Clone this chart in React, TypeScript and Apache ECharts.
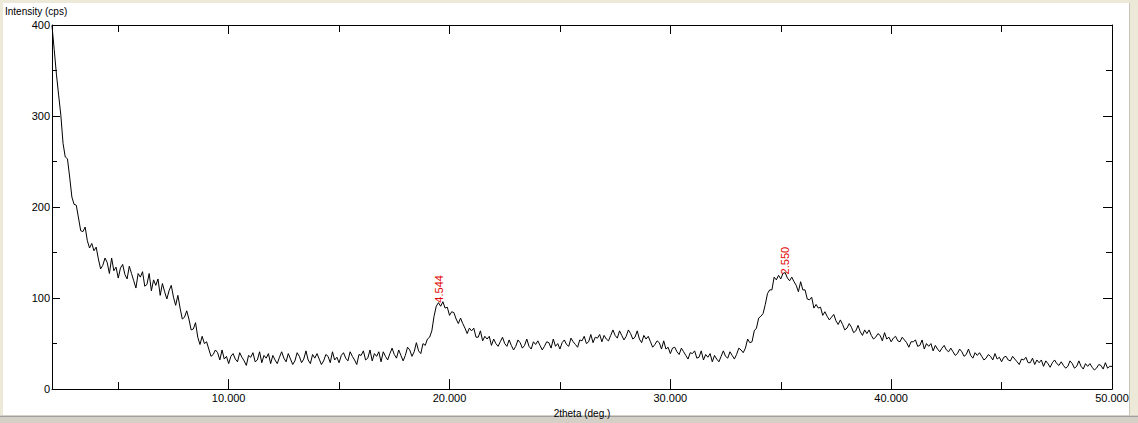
import React, { useEffect, useRef } from 'react';
import * as echarts from 'echarts';

// 2theta grid: 2.0° .. 50.0° in 0.1° steps
const ANGLE_START = 2.0;
const ANGLE_STEP = 0.1;

// Intensity (cps), one row per degree (2.x, 3.x, ... 49.x, 50.0)
const intensity: number[] = [
  399, 373, 346, 323, 301, 270, 255, 253, 233, 211,
  203, 202, 188, 174, 173, 178, 163, 155, 160, 152,
  156, 143, 132, 136, 144, 139, 127, 144, 130, 134,
  122, 133, 137, 126, 121, 135, 127, 119, 111, 127,
  123, 129, 113, 115, 127, 108, 120, 114, 121, 103,
  116, 107, 99, 108, 114, 101, 92, 103, 89, 77,
  79, 86, 77, 65, 66, 73, 57, 49, 58, 50,
  52, 44, 36, 38, 43, 40, 32, 43, 33, 36,
  28, 36, 39, 33, 30, 40, 35, 31, 26, 37,
  35, 40, 30, 32, 41, 29, 37, 34, 39, 28,
  37, 32, 28, 35, 41, 34, 30, 39, 33, 27,
  31, 40, 36, 29, 33, 42, 32, 28, 38, 34,
  39, 33, 27, 31, 38, 36, 29, 41, 32, 35,
  29, 37, 40, 34, 31, 41, 36, 32, 27, 38,
  37, 42, 32, 34, 43, 31, 39, 36, 41, 30,
  41, 36, 32, 39, 45, 38, 34, 43, 37, 31,
  37, 46, 43, 36, 41, 51, 42, 39, 50, 48,
  55, 57, 64, 80, 91, 95, 91, 96, 89, 90,
  81, 85, 84, 77, 72, 78, 72, 67, 61, 67,
  64, 67, 57, 57, 64, 53, 58, 55, 58, 48,
  55, 50, 47, 52, 57, 50, 47, 54, 48, 43,
  47, 54, 51, 45, 48, 55, 47, 44, 52, 49,
  53, 48, 43, 47, 52, 51, 45, 55, 47, 50,
  44, 51, 54, 49, 47, 56, 52, 49, 46, 54,
  53, 58, 50, 52, 60, 51, 57, 56, 60, 52,
  59, 55, 53, 59, 65, 59, 56, 64, 59, 54,
  58, 65, 61, 55, 57, 64, 55, 51, 59, 55,
  58, 52, 46, 49, 53, 51, 44, 53, 44, 46,
  39, 45, 46, 41, 38, 45, 41, 37, 33, 40,
  39, 42, 34, 35, 42, 32, 38, 35, 39, 30,
  37, 33, 30, 36, 42, 36, 34, 41, 37, 33,
  38, 45, 43, 40, 45, 55, 51, 52, 64, 67,
  78, 80, 83, 93, 105, 109, 109, 123, 120, 125,
  121, 127, 128, 122, 119, 123, 118, 114, 107, 118,
  109, 109, 99, 98, 101, 89, 93, 89, 90, 81,
  85, 80, 76, 79, 82, 75, 71, 76, 71, 65,
  67, 72, 68, 62, 64, 70, 63, 59, 65, 61,
  65, 59, 55, 57, 61, 59, 53, 62, 55, 57,
  52, 56, 58, 53, 52, 57, 54, 51, 46, 52,
  52, 54, 47, 48, 54, 44, 50, 47, 50, 42,
  48, 44, 41, 45, 48, 43, 41, 45, 41, 37,
  39, 44, 41, 36, 38, 44, 37, 34, 40, 37,
  40, 36, 32, 34, 38, 36, 32, 39, 33, 35,
  30, 35, 36, 32, 31, 36, 33, 30, 27, 33,
  32, 35, 29, 29, 34, 27, 32, 29, 32, 25,
  31, 28, 24, 29, 32, 28, 26, 30, 26, 23,
  25, 31, 28, 23, 25, 31, 25, 22, 28, 25,
  28, 24, 21, 23, 27, 26, 22, 29, 23, 25,
  25,
];

const xMajorTicks = [10, 20, 30, 40, 50];
const xMinorTicks = [5, 15, 25, 35, 45];
const X_MIN = 2;
const X_MAX = 50;
const Y_MIN = 0;
const Y_MAX = 400;
const Y_INTERVAL = 100;

// peak annotations (d-spacing, Å)
const peakAngles = [19.52, 35.17];
const peakIntensities = [95, 126];
const peakLabels = ['4.544', '2.550'];

const FONT = '"Liberation Sans", Arial, sans-serif';

export default function App() {
  const ref = useRef<HTMLDivElement>(null);

  useEffect(() => {
    document.body.style.margin = '0';
    const chart = echarts.init(ref.current!, null, { renderer: 'svg' });

    const seriesData = intensity.map((v, i) => [
      +(ANGLE_START + i * ANGLE_STEP).toFixed(2),
      v,
    ]);

    const black = '#000';
    const baseX = {
      type: 'value' as const,
      min: X_MIN,
      max: X_MAX,
      splitLine: { show: false },
      minorSplitLine: { show: false },
    };
    const baseY = {
      type: 'value' as const,
      min: Y_MIN,
      max: Y_MAX,
      interval: Y_INTERVAL,
      splitLine: { show: false },
      minorSplitLine: { show: false },
    };

    chart.setOption({
      animation: false,
      backgroundColor: 'transparent',
      textStyle: { fontFamily: FONT },
      grid: { left: 52, right: 26, top: 25, bottom: 33, containLabel: false },
      graphic: [
        {
          type: 'rect',
          silent: true,
          z: -20,
          shape: { x: 0, y: 0, width: 1138, height: 423 },
          style: { fill: '#d4d0c8' },
        },
        {
          type: 'rect',
          silent: true,
          z: -19,
          shape: { x: 0, y: 0, width: 1138, height: 415 },
          style: { fill: '#ece9d8' },
        },
        {
          type: 'rect',
          silent: true,
          z: -18,
          shape: { x: 3, y: 3, width: 1126, height: 412 },
          style: { fill: '#ffffff' },
        },
        {
          type: 'line',
          silent: true,
          z: -17,
          shape: { x1: 0, y1: 416.5, x2: 1138, y2: 416.5 },
          style: { stroke: '#a0a0a0', lineWidth: 1 },
        },
        {
          type: 'line',
          silent: true,
          z: -17,
          shape: { x1: 1129.5, y1: 3, x2: 1129.5, y2: 416 },
          style: { stroke: '#c8c4b8', lineWidth: 1 },
        },
        {
          type: 'text',
          silent: true,
          left: 5,
          top: 6,
          style: {
            text: 'Intensity (cps)',
            fill: black,
            font: `10px ${FONT}`,
          },
        },
      ],
      xAxis: [
        {
          ...baseX,
          position: 'bottom',
          axisLine: { show: true, onZero: false, lineStyle: { color: black, width: 1 } },
          axisTick: {
            show: true,
            inside: true,
            length: 10,
            customValues: xMajorTicks,
            lineStyle: { color: black, width: 1 },
          },
          axisLabel: {
            show: true,
            customValues: xMajorTicks,
            formatter: (v: number) => v.toFixed(3),
            color: black,
            fontSize: 11,
            fontFamily: FONT,
            margin: 3,
          },
          name: '2theta (deg.)',
          nameLocation: 'middle',
          nameGap: 18,
          nameTextStyle: { color: black, fontSize: 10, fontFamily: FONT },
        },
        {
          ...baseX,
          position: 'bottom',
          axisLine: { show: false, onZero: false },
          axisTick: {
            show: true,
            inside: true,
            length: 7,
            customValues: xMinorTicks,
            lineStyle: { color: black, width: 1 },
          },
          axisLabel: { show: false },
        },
        {
          ...baseX,
          position: 'top',
          axisLine: { show: true, onZero: false, lineStyle: { color: black, width: 1 } },
          axisTick: {
            show: true,
            inside: true,
            length: 9,
            customValues: xMajorTicks,
            lineStyle: { color: black, width: 1 },
          },
          axisLabel: { show: false },
        },
        {
          ...baseX,
          position: 'top',
          axisLine: { show: false, onZero: false },
          axisTick: {
            show: true,
            inside: true,
            length: 7,
            customValues: xMinorTicks,
            lineStyle: { color: black, width: 1 },
          },
          axisLabel: { show: false },
        },
      ],
      yAxis: [
        {
          ...baseY,
          position: 'left',
          axisLine: { show: true, onZero: false, lineStyle: { color: black, width: 1 } },
          axisTick: { show: true, inside: true, length: 8, lineStyle: { color: black, width: 1 } },
          minorTick: { show: true, splitNumber: 2, length: 5, lineStyle: { color: black, width: 1 } },
          axisLabel: {
            show: true,
            color: black,
            fontSize: 11,
            fontFamily: FONT,
            margin: 2,
          },
        },
        {
          ...baseY,
          position: 'right',
          axisLine: { show: true, onZero: false, lineStyle: { color: black, width: 1 } },
          axisTick: { show: true, inside: true, length: 9, lineStyle: { color: black, width: 1 } },
          minorTick: { show: true, splitNumber: 2, length: 6, lineStyle: { color: black, width: 1 } },
          axisLabel: { show: false },
        },
      ],
      series: [
        {
          type: 'line',
          xAxisIndex: 0,
          yAxisIndex: 0,
          data: seriesData,
          showSymbol: false,
          symbol: 'none',
          smooth: false,
          lineStyle: { color: black, width: 1 },
          itemStyle: { color: black },
          z: 3,
          markPoint: {
            symbol: 'circle',
            symbolSize: 0,
            silent: true,
            label: {
              show: true,
              position: [0, 0],
              align: 'left',
              verticalAlign: 'middle',
              rotate: 90,
              color: '#e00000',
              fontSize: 11,
              fontFamily: FONT,
              formatter: (p: any) => p.name,
            },
            data: peakAngles.map((a, i) => ({
              name: peakLabels[i],
              coord: [a, peakIntensities[i]],
            })),
          },
        },
      ],
    });

    return () => chart.dispose();
  }, []);

  return <div ref={ref} style={{ width: 1138, height: 423 }} />;
}
